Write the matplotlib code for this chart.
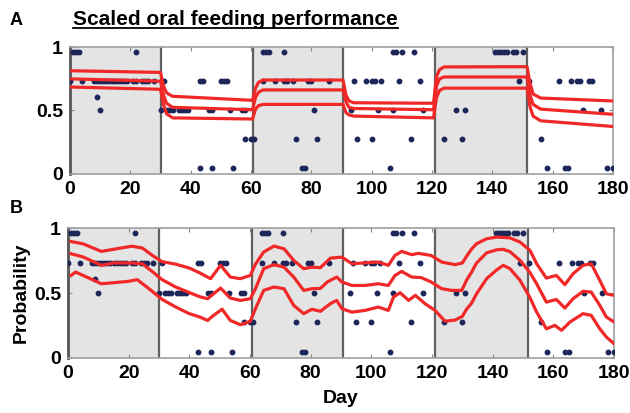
import matplotlib
matplotlib.use("Agg")
import matplotlib.pyplot as plt
from matplotlib.lines import Line2D

plt.rcParams['font.family'] = ['Liberation Sans', 'DejaVu Sans']
plt.rcParams['font.weight'] = 'bold'

# observed scores (axis units) and the days they were seen
days_top = [1, 2, 3, 22, 64, 65, 66, 71, 107, 108, 110, 114, 141, 142, 143, 144, 145, 147, 148, 150]
days_high = [0, 4, 8, 9, 10, 11, 12, 13, 14, 15, 16, 17, 18, 19, 21, 22, 24, 25, 26, 28, 31,
             43, 44, 50, 51, 52, 64, 68, 71, 72, 74, 79, 80, 86, 94, 98, 100, 101, 103, 109, 116,
             149, 152, 162, 166, 168, 169, 172, 173]
days_midhigh = [9]
days_mid = [10, 30, 32, 33, 34, 36, 37, 38, 39, 46, 47, 53, 57, 58, 81, 93, 102, 107, 117,
            128, 131, 170, 176]
days_low = [58, 60, 61, 75, 82, 95, 100, 113, 124, 130, 156]
days_zero = [43, 47, 54, 77, 78, 106, 158, 164, 165, 178, 180]
score_levels = [0.96, 0.73, 0.61, 0.50, 0.275, 0.045]

# panel A: state-space fit (upper / median / lower)
a_day = [0, 30, 31, 32, 34, 60.5, 61.5, 62.5, 64, 90.5, 91.5, 92.5, 94, 120.5, 121.5, 122.5,
         124, 151.5, 152.5, 153.5, 156, 180]
a_up = [0.813, 0.80, 0.694, 0.639, 0.612, 0.58, 0.676, 0.722, 0.74, 0.74, 0.621, 0.575, 0.561,
        0.557, 0.767, 0.822, 0.843, 0.845, 0.713, 0.63, 0.598, 0.575]
a_mid = [0.749, 0.731, 0.621, 0.557, 0.525, 0.506, 0.603, 0.644, 0.662, 0.662, 0.566, 0.525,
         0.516, 0.506, 0.694, 0.749, 0.764, 0.764, 0.621, 0.548, 0.511, 0.47]
a_low = [0.685, 0.667, 0.548, 0.474, 0.442, 0.433, 0.511, 0.538, 0.548, 0.548, 0.483, 0.465,
         0.456, 0.442, 0.603, 0.658, 0.676, 0.676, 0.529, 0.456, 0.419, 0.374]

# panel B: smoothed probability
b_up_day = [1, 5, 11, 15, 21, 24.5, 28, 31, 35.5, 40, 43.5, 47, 50.3, 53.5, 56.8, 60.1, 61.8,
            64.5, 67.9, 71.2, 74.4, 77.7, 80.4, 83.2, 86.5, 90.3, 93.6, 97.9, 102.3, 105.6,
            107.8, 110, 113.3, 115.5, 119.7, 123.2, 127.6, 130, 131.5, 133, 134.7, 138, 141.3,
            145.7, 149, 152.3, 154.5, 157.7, 161, 163.8, 166.5, 169.8, 172.5, 175.3, 177.5, 180]
b_up = [0.896, 0.878, 0.820, 0.836, 0.860, 0.846, 0.786, 0.741, 0.722, 0.692, 0.654, 0.610,
        0.713, 0.623, 0.610, 0.635, 0.722, 0.815, 0.861, 0.840, 0.751, 0.687, 0.699, 0.695,
        0.768, 0.776, 0.725, 0.732, 0.738, 0.713, 0.789, 0.820, 0.795, 0.805, 0.789, 0.738,
        0.718, 0.731, 0.786, 0.837, 0.879, 0.917, 0.930, 0.924, 0.892, 0.828, 0.725, 0.615,
        0.635, 0.564, 0.648, 0.713, 0.725, 0.598, 0.494, 0.482]
b_mid_day = [1, 5, 11, 15, 21, 24.5, 28, 31, 35.5, 40, 43.5, 46, 50.3, 53.5, 56.8, 60.1, 61.8,
             64.5, 67.9, 71.2, 74.4, 77.7, 80.4, 83.2, 85.5, 88.6, 90.3, 93.6, 97.9, 102.3,
             105.6, 107.8, 110, 113.3, 116.5, 119.7, 123.2, 126.5, 129.8, 131.5, 133, 134.7,
             138, 141.3, 143.5, 145.7, 149, 152.2, 154.5, 157.7, 161, 163.8, 166.5, 169.8,
             172.5, 175.3, 177.5, 180]
b_mid = [0.802, 0.777, 0.713, 0.731, 0.731, 0.725, 0.661, 0.603, 0.546, 0.503, 0.471, 0.456,
         0.538, 0.461, 0.443, 0.456, 0.533, 0.687, 0.718, 0.699, 0.623, 0.520, 0.533, 0.535,
         0.585, 0.623, 0.585, 0.558, 0.558, 0.571, 0.558, 0.635, 0.666, 0.623, 0.618, 0.585,
         0.533, 0.520, 0.520, 0.603, 0.658, 0.731, 0.809, 0.832, 0.836, 0.818, 0.751, 0.661,
         0.571, 0.430, 0.450, 0.384, 0.456, 0.513, 0.507, 0.405, 0.315, 0.277]
b_low_day = [1, 2.5, 5, 11, 15, 20, 22.8, 26.7, 31, 35.5, 40, 43.5, 46, 48, 50.8, 53.5, 56.8,
             60.1, 61.8, 64.5, 67.9, 71.2, 74.4, 77.7, 80.4, 83.2, 86.5, 88.6, 90.3, 93.6,
             97.9, 102.3, 105.6, 107.3, 109.5, 112.3, 114.5, 117.7, 121, 124.3, 127.6, 130,
             131.5, 133, 134.7, 138, 141.3, 143.5, 145.7, 149, 152.2, 154.5, 157.7, 160.5,
             162.7, 165.5, 169.8, 172.5, 175.3, 177.5, 180]
b_low = [0.635, 0.661, 0.635, 0.571, 0.579, 0.590, 0.603, 0.533, 0.451, 0.392, 0.341, 0.315,
         0.289, 0.328, 0.375, 0.289, 0.256, 0.282, 0.379, 0.520, 0.546, 0.533, 0.405, 0.341,
         0.375, 0.359, 0.418, 0.443, 0.379, 0.353, 0.366, 0.392, 0.366, 0.469, 0.502, 0.443,
         0.482, 0.418, 0.366, 0.283, 0.292, 0.320, 0.379, 0.420, 0.494, 0.610, 0.677, 0.713,
         0.687, 0.598, 0.469, 0.353, 0.225, 0.251, 0.213, 0.277, 0.341, 0.328, 0.225, 0.161,
         0.110]

bounds = [30, 60.5, 90.5, 121, 151.5]
shaded = [(0, 30), (60.5, 90.5), (121, 151.5)]
xticks = [0, 20, 40, 60, 80, 100, 120, 140, 160, 180]

dot_groups = [days_top, days_high, days_midhigh, days_mid, days_low, days_zero]

fig = plt.figure(figsize=(6.3, 4.13), dpi=100)
ax_a = fig.add_axes([70 / 630, 1 - 174 / 413, 543 / 630, 127 / 413])
ax_b = fig.add_axes([68 / 630, 1 - 358 / 413, 546 / 630, 130 / 413])


def decorate(ax):
    for lo, hi in shaded:
        ax.axvspan(lo, hi, color='#e4e4e4', lw=0, zorder=0)
    for b in bounds:
        ax.axvline(b, color='#606060', lw=1.6, zorder=1)
    for days, lvl in zip(dot_groups, score_levels):
        ax.plot(days, [lvl] * len(days), 'o', color='#1c2658', ms=3.2, zorder=3)
    ax.set_xlim(0, 180)
    ax.set_ylim(0, 1)
    ax.set_xticks(xticks)
    ax.set_yticks([0, 0.5, 1])
    ax.set_yticklabels(['0', '0.5', '1'])
    ax.tick_params(direction='in', length=3, color='#888888', top=True, right=True,
                   labelsize=14)
    ax.tick_params(axis='x', pad=5)
    ax.tick_params(axis='y', pad=5)
    for s in ['top', 'right', 'bottom']:
        ax.spines[s].set_color('#a0a0a0')
        ax.spines[s].set_linewidth(1.2)
    ax.spines['left'].set_color('#555555')
    ax.spines['left'].set_linewidth(2)
    for lab in ax.get_xticklabels() + ax.get_yticklabels():
        lab.set_fontweight('bold')


decorate(ax_a)
decorate(ax_b)

red = '#f02828'
for y in (a_up, a_mid, a_low):
    ax_a.plot(a_day, y, color=red, lw=2.3, zorder=4)
ax_b.plot(b_up_day, b_up, color=red, lw=2.3, zorder=4)
ax_b.plot(b_mid_day, b_mid, color=red, lw=2.3, zorder=4)
ax_b.plot(b_low_day, b_low, color=red, lw=2.3, zorder=4)

ax_b.set_xlabel('Day', fontsize=14, fontweight='bold', labelpad=6)
ax_b.set_ylabel('Probability', fontsize=14, fontweight='bold', labelpad=3)

fig.text(10 / 630, 1 - 25 / 413, 'A', fontsize=13, fontweight='bold', va='baseline')
fig.text(10 / 630, 1 - 213 / 413, 'B', fontsize=13, fontweight='bold', va='baseline')
title = fig.text(73 / 630, 1 - 25 / 413, 'Scaled oral feeding performance', fontsize=15,
                 fontweight='bold', va='baseline')

# underline the title
fig.canvas.draw()
bb = title.get_window_extent().transformed(fig.transFigure.inverted())
uy = 1 - 27.5 / 413
fig.add_artist(Line2D([bb.x0, bb.x1], [uy, uy], transform=fig.transFigure, color='black', lw=1.3))

fig.savefig('out.png', dpi=100)
